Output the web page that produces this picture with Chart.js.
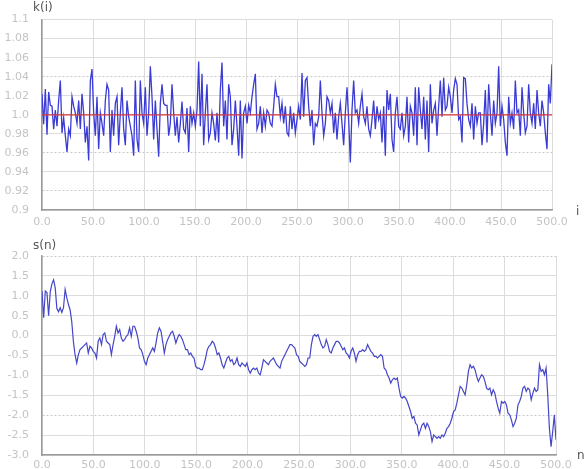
<!DOCTYPE html>
<html><head><meta charset="utf-8">
<script src="https://cdn.jsdelivr.net/npm/chart.js@4/dist/chart.umd.min.js"></script>
<style>
html,body{margin:0;padding:0;background:#fff;}
#wrap{position:relative;width:585px;height:469px;overflow:hidden;}
.box{position:absolute;left:0;width:585px;}
</style></head><body>
<div id="wrap">
<div class="box" style="top:0;height:235px"><canvas id="c1" width="585" height="235"></canvas></div>
<div class="box" style="top:235px;height:242px"><canvas id="c2" width="585" height="242"></canvas></div>
</div>
<script>
// ---- data ----
const xTickLabels = ['0.0','50.0','100.0','150.0','200.0','250.0','300.0','350.0','400.0','450.0','500.0'];
const kTickLabels = ['0.9','0.92','0.94','0.96','0.98','1.0','1.02','1.04','1.06','1.08','1.1'];
const sTickLabels = ['-3.0','-2.5','-2.0','-1.5','-1.0','-0.5','0.0','0.5','1.0','1.5','2.0'];
const kReference = 1.0;
const iRange = [0, 500];

const kValues = [
1.022,0.990,1.027,0.979,1.024,1.010,1.009,0.985,1.005,0.988,1.015,1.036,0.981,0.997,0.978,0.961,0.985,0.978,1.019,1.009,1.002,0.991,1.015,0.985,1.022,1.002,0.971,0.988,0.952,1.036,1.048,1.002,0.978,1.019,0.964,1.002,0.991,0.978,1.015,1.032,1.026,0.961,1.005,0.978,1.012,1.019,0.968,1.002,1.029,0.985,0.968,1.015,0.998,0.988,0.978,0.957,1.036,0.974,0.961,1.036,1.002,0.991,1.029,0.978,1.002,1.051,1.019,0.974,1.015,0.985,0.956,1.012,
1.032,1.012,1.010,1.010,0.978,0.991,1.032,1.002,0.978,0.998,0.971,0.991,1.014,0.985,0.981,1.007,0.961,1.009,0.991,1.002,0.988,1.005,1.056,0.988,1.043,0.968,1.002,1.032,0.974,0.981,1.002,0.991,0.973,1.002,0.971,1.026,1.055,0.988,1.015,0.974,1.032,1.019,0.968,0.985,1.015,0.988,0.957,1.015,0.954,1.002,1.009,0.991,1.010,1.002,1.019,1.032,1.043,0.985,0.991,1.009,0.981,1.002,0.988,1.005,1.002,0.991,0.988,1.009,1.032,1.019,1.019,0.998,1.012,0.991,1.009,0.981,
0.978,1.009,0.985,1.002,0.981,0.995,1.009,0.995,1.044,0.998,1.036,1.039,1.009,0.988,1.005,0.968,0.991,0.988,0.998,1.036,1.002,0.978,0.991,1.019,1.015,1.002,1.012,0.981,1.002,0.974,0.998,1.012,0.991,0.968,1.002,1.029,0.995,0.950,1.005,1.036,1.002,1.005,0.991,1.009,1.022,0.998,0.991,1.009,0.985,0.978,0.995,1.015,0.985,1.009,0.995,1.002,0.971,1.009,0.957,1.026,1.005,1.022,0.974,0.961,1.002,1.019,0.988,0.985,1.002,0.978,0.988,1.019,0.971,1.009,1.002,0.978,1.029,
0.968,1.029,1.005,0.985,1.019,0.974,1.015,0.961,1.032,0.991,1.005,1.012,0.978,1.009,1.036,0.998,1.039,1.005,1.009,1.029,1.019,1.002,1.026,1.038,1.032,0.995,0.998,0.971,1.039,1.038,1.012,0.995,0.988,1.012,0.974,1.009,0.991,1.002,1.002,0.968,0.991,1.026,0.971,1.032,1.002,0.978,1.015,0.991,1.002,1.051,0.988,1.009,0.995,0.971,0.957,1.019,0.991,1.002,0.985,1.036,1.002,1.005,0.978,1.029,1.002,0.981,0.988,1.032,1.002,0.991,1.012,0.985,1.026,1.002,0.988,1.015,1.002,0.981,0.964,1.032,1.012,1.053
];

const sValues = [
1.12,0.45,1.12,1.08,0.50,1.10,1.30,1.40,1.20,0.68,0.60,0.70,0.58,0.70,1.16,0.95,0.78,0.65,0.35,-0.15,-0.48,-0.69,
-0.479,-0.353,-0.311,-0.269,-0.227,-0.185,-0.437,-0.269,-0.311,-0.395,-0.437,-0.563,-0.143,-0.059,-0.227,0.025,0.067,-0.143,-0.185,-0.227,-0.479,-0.227,-0.017,0.235,0.067,0.151,-0.059,-0.143,-0.101,-0.017,0.025,0.193,-0.017,0.235,0.235,0.109,-0.059,-0.311,-0.353,-0.479,-0.647,-0.731,-0.563,-0.479,-0.395,-0.311,-0.395,-0.185,0.067,0.193,0.109,-0.143,-0.437,-0.227,-0.101,-0.017,0.067,0.109,-0.017,-0.185,-0.059,0.025,-0.017,-0.101,-0.227,-0.353,-0.353,-0.479,-0.437,-0.521,-0.563,-0.773,-0.815,-0.815,-0.857,-0.857,-0.731,-0.563,-0.353,-0.269,-0.227,-0.143,-0.185,-0.311,-0.479,-0.437,-0.563,-0.731,-0.815,-0.689,-0.563,-0.521,-0.647,-0.605,-0.731,-0.689,-0.563,-0.731,-0.773,-0.689,-0.731,-0.773,-0.689,-0.857,-0.941,-0.857,-0.815,-0.857,-0.815,-0.941,-0.983,-0.815,-0.605,-0.647,-0.689,-0.731,-0.647,-0.605,-0.563,-0.647,-0.731,-0.773,-0.815,-0.647,-0.563,-0.479,-0.395,-0.311,-0.227,-0.227,-0.269,-0.311,-0.479,-0.521,
-0.647,-0.689,-0.731,-0.773,-0.731,-0.563,-0.563,-0.227,-0.017,0.025,-0.017,0.025,-0.101,-0.227,-0.311,-0.269,-0.101,-0.227,-0.395,-0.437,-0.311,-0.227,-0.143,-0.143,-0.185,-0.269,-0.353,-0.311,-0.437,-0.479,-0.563,-0.395,-0.311,-0.437,-0.647,-0.479,-0.395,-0.395,-0.353,-0.395,-0.353,-0.227,-0.311,-0.395,-0.437,-0.521,-0.521,-0.563,-0.521,-0.479,-0.521,-0.815,-0.857,-0.983,-1.067,-1.193,-1.109,-1.067,-1.109,-1.067,-1.319,-1.529,-1.571,-1.529,-1.571,-1.655,-1.782,-1.908,-2.076,-2.034,-2.202,-2.244,-2.496,-2.370,-2.244,-2.202,-2.328,-2.202,-2.286,-2.412,-2.664,-2.496,-2.538,-2.580,-2.538,-2.580,-2.496,-2.538,-2.454,-2.328,-2.286,-2.202,-2.076,-1.908,-1.866,-1.697,-1.487,-1.277,-1.319,-1.403,-1.487,-1.235,-0.899,-0.731,-0.815,-0.773,-0.857,-1.025,-1.151,-1.067,-0.983,-1.025,-1.151,-1.319,-1.361,-1.319,-1.487,-1.361,-1.445,-1.655,-1.824,-1.950,-1.655,-1.697,-1.655,-1.739,-1.950,-1.992,-2.118,-2.286,-2.202,-2.076,-1.739,-1.655,-1.529,-1.319,-1.277,-1.403,-1.319,-1.361,-1.613,-1.445,-1.319,-1.403,-1.361,-0.731,-0.899,-0.857,-0.983,-0.815,-1.487,-2.328,-2.790,-2.412,-1.992,-2.622
];

const kDashed = [1.04, 0.96, 0.92];
const sDashed = [2.0, -2.0];

// ---- helpers ----
function toPoints(vals){
  const n = vals.length;
  return vals.map((v, idx) => ({x: iRange[0] + idx * (iRange[1] - iRange[0]) / (n - 1), y: v}));
}
const FONT = 'DejaVu Sans';
const tickColor = '#c4c4c4';
const gridColor = '#dcdcdc';

const axisText = {
  id: 'axisText',
  afterDraw(chart, args, opts) {
    const ctx = chart.ctx;
    ctx.save();
    ctx.fillStyle = '#555';
    ctx.font = '12px "' + FONT + '"';
    ctx.textBaseline = 'middle';
    ctx.textAlign = 'left';
    ctx.fillText(opts.yTitle, opts.yPos[0], opts.yPos[1]);
    ctx.fillText(opts.xTitle, opts.xPos[0], opts.xPos[1]);
    ctx.restore();
  }
};

function isIn(list, v){ return list.some(d => Math.abs(d - v) < 1e-6); }

function makeOptions(cfg){
  return {
    responsive: false,
    animation: false,
    events: [],
    layout: {padding: {left: 0, right: cfg.right, top: cfg.top, bottom: 0}},
    plugins: {
      legend: {display: false},
      tooltip: {enabled: false},
      axisText: cfg.text
    },
    scales: {
      x: {
        type: 'linear', min: iRange[0], max: iRange[1],
        ticks: {stepSize: 50, autoSkip: false, maxRotation: 0, color: tickColor, padding: cfg.xPad,
                font: {family: FONT, size: 11}, callback: (v, i) => xTickLabels[i]},
        grid: {color: gridColor, drawTicks: false, lineWidth: 1},
        border: {color: '#9a9a9a', width: 1.5},
        afterFit: s => { s.height = cfg.xHeight; }
      },
      y: {
        min: cfg.min, max: cfg.max,
        ticks: {stepSize: cfg.step, autoSkip: false, color: tickColor, padding: 13,
                font: {family: FONT, size: 11}, callback: (v, i) => cfg.labels[i]},
        grid: {
          drawTicks: false, lineWidth: 1,
          color: c => (c.tick && isIn(cfg.dashed, c.tick.value)) ? '#c8c8c8' : gridColor
        },
        border: {color: '#9a9a9a', width: 1.5,
          dash: c => (c.tick && isIn(cfg.dashed, c.tick.value)) ? [2, 2] : []},
        afterFit: s => { s.width = 42; }
      }
    }
  };
}

new Chart(document.getElementById('c1'), {
  type: 'line',
  data: {datasets: [
    {data: [{x: iRange[0], y: kReference}, {x: iRange[1], y: kReference}], borderColor: '#d8383c', borderWidth: 1.2,
     pointRadius: 0, tension: 0, order: 0},
    {data: toPoints(kValues), borderColor: '#3a3ad4', borderWidth: 1.3, pointRadius: 0, tension: 0, order: 1}
  ]},
  options: makeOptions({right: 33, top: 16, xHeight: 25, xPad: 6, min: 0.9, max: 1.1, step: 0.02,
    labels: kTickLabels, dashed: kDashed,
    text: {yTitle: 'k(i)', yPos: [33, 8], xTitle: 'i', xPos: [576, 212]}}),
  plugins: [axisText]
});

new Chart(document.getElementById('c2'), {
  type: 'line',
  data: {datasets: [
    {data: toPoints(sValues), borderColor: '#4646c8', borderWidth: 1.2, pointRadius: 0, tension: 0}
  ]},
  options: makeOptions({right: 29, top: 21, xHeight: 22, xPad: 4, min: -3, max: 2, step: 0.5,
    labels: sTickLabels, dashed: sDashed,
    text: {yTitle: 's(n)', yPos: [33, 11], xTitle: 'n', xPos: [577, 221]}}),
  plugins: [axisText]
});
</script>
</body></html>
